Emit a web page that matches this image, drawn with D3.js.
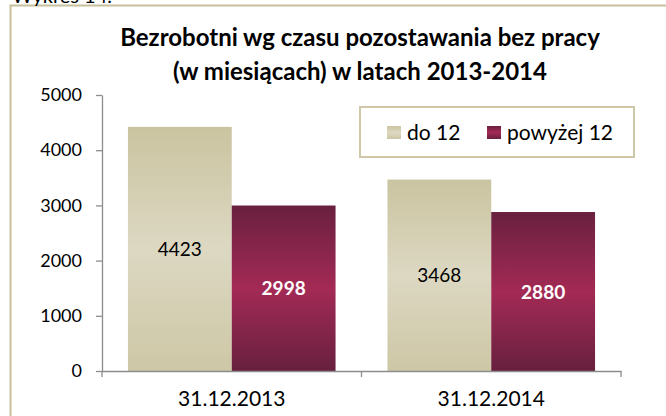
<!DOCTYPE html>
<html>
<head>
<meta charset="utf-8">
<style>
  body { margin: 0; background: #fff; }
  svg { display: block; font-family: Lato, "Open Sans", sans-serif; }
</style>
</head>
<body>
<div id="chart"></div>
<script src="https://d3js.org/d3.v7.min.js"></script>
<script>
  // dane
  const categories = ['31.12.2013', '31.12.2014'];
  const seriesNames = ['do 12', 'powyżej 12'];
  const doDwunastu = [4423, 3468];
  const powyzejDwunastu = [2998, 2880];
  const yTicks = [0, 1000, 2000, 3000, 4000, 5000];

  const W = 666, H = 416;
  const margin = { left: 102, right: 45, top: 95, bottom: 45 };

  const svg = d3.select('#chart')
                .append('svg')
                .attr('width', W)
                .attr('height', H);

  // gradienty słupków
  const defs = svg.append('defs');
  const beige = defs.append('linearGradient')
      .attr('id', 'gBeige').attr('x1', 0).attr('y1', 0).attr('x2', 0).attr('y2', 1);
  beige.append('stop').attr('offset', '0%').attr('stop-color', '#cbc4a1');
  beige.append('stop').attr('offset', '50%').attr('stop-color', '#dcd8c2');
  beige.append('stop').attr('offset', '100%').attr('stop-color', '#cec7a6');
  const maroon = defs.append('linearGradient')
      .attr('id', 'gMaroon').attr('x1', 0).attr('y1', 0).attr('x2', 0).attr('y2', 1);
  maroon.append('stop').attr('offset', '0%').attr('stop-color', '#69203f');
  maroon.append('stop').attr('offset', '50%').attr('stop-color', '#a32a55');
  maroon.append('stop').attr('offset', '100%').attr('stop-color', '#68203f');

  // ramka wykresu (wychodzi poza kadr)
  svg.append('rect')
     .attr('x', 10.5).attr('y', 5.5)
     .attr('width', 700).attr('height', 450)
     .attr('fill', 'none')
     .attr('stroke', '#c8c09c')
     .attr('stroke-width', 2);

  // ucięty podpis nad ramką
  svg.append('text')
     .attr('x', 12).attr('y', 3)
     .attr('font-size', 20)
     .attr('fill', '#000')
     .text('Wykres 14.');

  // tytuł
  const title = svg.append('text')
     .attr('text-anchor', 'middle')
     .attr('font-weight', 'bold')
     .attr('font-size', 24)
     .attr('fill', '#000');
  title.append('tspan').attr('x', 360).attr('y', 46).text('Bezrobotni wg czasu pozostawania bez pracy');
  title.append('tspan').attr('x', 360).attr('y', 80).text('(w miesiącach) w latach 2013-2014');

  const x0 = d3.scaleBand()
               .domain(categories)
               .range([margin.left, W - margin.right])
               .paddingInner(0.2)
               .paddingOuter(0.1);
  const x1 = d3.scaleBand()
               .domain(seriesNames)
               .range([0, x0.bandwidth()]);
  const y = d3.scaleLinear()
              .domain([0, 5000])
              .range([H - margin.bottom, margin.top]);

  // oś Y
  const yAxis = svg.append('g')
     .attr('transform', `translate(${margin.left},0)`)
     .call(d3.axisLeft(y).tickValues(yTicks).tickFormat(d3.format('d'))
             .tickSize(6).tickSizeOuter(0).tickPadding(14));
  yAxis.select('.domain').attr('stroke', '#8c8c8c').attr('stroke-width', 1.3);
  yAxis.selectAll('.tick line').attr('stroke', '#8c8c8c').attr('stroke-width', 1.3);
  yAxis.selectAll('.tick text')
       .attr('font-family', 'Lato, sans-serif')
       .attr('font-size', 18)
       .attr('fill', '#000');

  // słupki
  const rows = categories.map((c, i) => ({ cat: c, vals: [doDwunastu[i], powyzejDwunastu[i]] }));
  const groups = svg.selectAll('g.grp')
     .data(rows)
     .enter()
     .append('g')
     .attr('class', 'grp')
     .attr('transform', d => `translate(${x0(d.cat)},0)`);

  const fills = ['url(#gBeige)', 'url(#gMaroon)'];
  groups.selectAll('rect')
     .data(d => d.vals.map((v, k) => ({ s: seriesNames[k], v: v, k: k })))
     .enter()
     .append('rect')
     .attr('x', d => x1(d.s))
     .attr('y', d => y(d.v))
     .attr('width', x1.bandwidth())
     .attr('height', d => y(0) - y(d.v))
     .attr('fill', d => fills[d.k]);

  groups.selectAll('text.lbl')
     .data(d => d.vals.map((v, k) => ({ s: seriesNames[k], v: v, k: k })))
     .enter()
     .append('text')
     .attr('class', 'lbl')
     .attr('x', d => x1(d.s) + x1.bandwidth() / 2)
     .attr('y', d => (y(d.v) + y(0)) / 2 + 7)
     .attr('text-anchor', 'middle')
     .attr('font-size', 19)
     .attr('font-weight', d => d.k === 1 ? 'bold' : 'normal')
     .attr('fill', d => d.k === 1 ? '#fff' : '#000')
     .text(d => d.v);

  // oś X
  const xAxis = svg.append('g')
     .attr('transform', `translate(0,${y(0)})`)
     .call(d3.axisBottom(x0).tickSize(0).tickPadding(20));
  xAxis.select('.domain').attr('stroke', '#8c8c8c').attr('stroke-width', 1.3);
  xAxis.selectAll('.tick text')
       .attr('font-family', 'Lato, sans-serif')
       .attr('font-size', 21)
       .attr('fill', '#000');
  // znaczniki między kategoriami
  const xEdges = [margin.left, (x0(categories[0]) + x0.bandwidth() + x0(categories[1])) / 2, W - margin.right];
  svg.selectAll('line.xt')
     .data(xEdges)
     .enter()
     .append('line')
     .attr('x1', d => d).attr('x2', d => d)
     .attr('y1', y(0)).attr('y2', y(0) + 6)
     .attr('stroke', '#8c8c8c')
     .attr('stroke-width', 1.3);

  // legenda
  const leg = svg.append('g').attr('transform', 'translate(360,107)');
  leg.append('rect')
     .attr('x', 1).attr('y', 1).attr('width', 274).attr('height', 50)
     .attr('fill', '#e6e6e6');
  leg.append('rect')
     .attr('width', 274).attr('height', 50)
     .attr('fill', '#fff')
     .attr('stroke', '#cfc8a8')
     .attr('stroke-width', 2);
  const legX = [27, 127];
  seriesNames.forEach((n, k) => {
    leg.append('rect')
       .attr('x', legX[k]).attr('y', 19)
       .attr('width', 14).attr('height', 13)
       .attr('fill', fills[k]);
    leg.append('text')
       .attr('x', legX[k] + 20).attr('y', 33)
       .attr('font-size', 21)
       .attr('fill', '#000')
       .text(n);
  });
</script>
</body>
</html>
